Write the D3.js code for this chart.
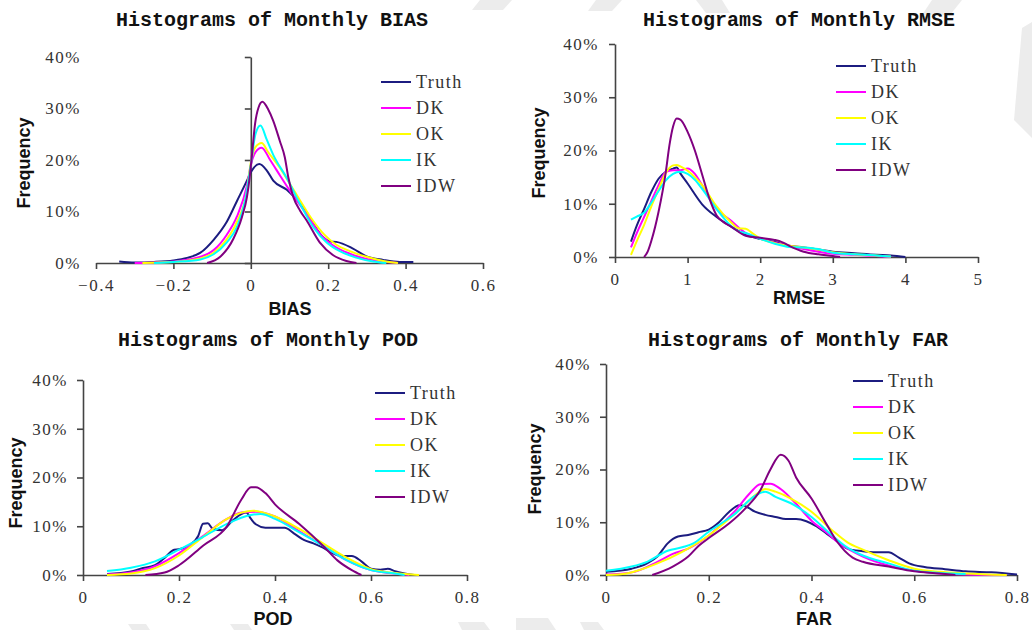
<!DOCTYPE html>
<meta charset="utf-8">
<style>
body { margin: 0; background: #fff; }
.title { font: bold 20px "Liberation Mono", monospace; fill: #111; }
.axis-title { font: bold 18px "Liberation Sans", sans-serif; fill: #111; }
.tick-label { font: 17px "Liberation Serif", serif; fill: #333; letter-spacing: 1.5px; }
.legend text { font: 18px "Liberation Serif", serif; fill: #333; letter-spacing: 1.5px; }
.axis path, .axis line { stroke: #444; stroke-width: 1.6px; }
.line { fill: none; stroke-width: 2px; }
</style>
<body>
<svg width="1032" height="630"></svg>
<script src="https://d3js.org/d3.v7.min.js"></script>
<script>
var seriesNames = ["Truth", "DK", "OK", "IK", "IDW"];
var seriesColors = ["#1c1c80", "#ff00ff", "#ffff00", "#00ffff", "#800080"];
var yTicks = [0, 10, 20, 30, 40];

// values are [x, frequency %]
var biasTruth = [[-0.34,0.3],[-0.3,0.1],[-0.25,0.2],[-0.2,0.5],[-0.165,1],[-0.13,2],[-0.096,4.5],[-0.062,8],[-0.036,12],[-0.01,16],[0,17.6],[0.022,19.2],[0.041,18],[0.058,16],[0.093,14.2],[0.127,11.5],[0.161,7.6],[0.187,5],[0.204,4.2],[0.221,4.1],[0.264,2.8],[0.299,1.3],[0.342,0.6],[0.385,0.2],[0.42,0.2]];
var biasDK = [[-0.3,0],[-0.25,0.1],[-0.2,0.3],[-0.13,1.2],[-0.096,2.5],[-0.062,5.5],[-0.036,9],[-0.01,15],[0,19],[0.012,21.5],[0.028,22.4],[0.05,20],[0.077,16.8],[0.103,13.8],[0.144,9.5],[0.178,5.7],[0.213,3.4],[0.256,1.8],[0.299,0.8],[0.342,0.3],[0.38,0]];
var biasOK = [[-0.28,0],[-0.2,0.2],[-0.13,0.9],[-0.096,2],[-0.062,4.6],[-0.036,8],[-0.01,14],[0,19.5],[0.012,22.5],[0.028,23.3],[0.045,21.5],[0.075,18.5],[0.1,15.5],[0.127,12.2],[0.16,8.3],[0.19,5.5],[0.22,3.6],[0.256,2.3],[0.299,1.2],[0.342,0.4],[0.38,0]];
var biasIK = [[-0.25,0],[-0.2,0.2],[-0.13,0.7],[-0.096,1.7],[-0.062,4],[-0.036,7],[-0.015,12],[0,19],[0.012,25],[0.025,26.7],[0.041,24],[0.058,21],[0.093,16.5],[0.127,11.5],[0.161,7],[0.196,4],[0.23,2.3],[0.27,1.1],[0.316,0.3],[0.35,0]];
var biasIDW = [[-0.113,0],[-0.079,1.2],[-0.045,4.7],[-0.023,8.9],[-0.01,12.8],[-0.003,16.6],[0.003,21],[0.011,27],[0.02,30.2],[0.03,31.3],[0.045,29.8],[0.058,27.6],[0.075,23.7],[0.088,20.5],[0.097,16.6],[0.11,12.8],[0.127,10.2],[0.144,8.3],[0.178,4],[0.213,1.5],[0.247,0.4],[0.273,0]];

var rmseTruth = [[0.22,2.9],[0.3,5.9],[0.4,9],[0.5,12.2],[0.6,14.7],[0.7,16],[0.8,16.6],[0.85,16.8],[0.9,15.7],[1.0,13.8],[1.2,9.9],[1.4,7.5],[1.6,5.7],[1.8,4.2],[2.0,3.4],[2.2,2.8],[2.4,2.1],[2.6,1.8],[2.8,1.4],[3.0,1],[3.3,0.7],[3.6,0.4],[3.8,0.3],[4.0,0]];
var rmseDK = [[0.22,1.8],[0.3,4.5],[0.4,7.5],[0.5,10.5],[0.6,13.5],[0.7,16],[0.8,16.3],[0.9,16.3],[1.0,16.6],[1.1,15.6],[1.2,13.5],[1.4,9],[1.6,6.8],[1.8,4.5],[2.0,3.5],[2.2,2.7],[2.4,2.1],[2.6,1.5],[2.8,1],[3.0,0.6],[3.3,0.4],[3.6,0.2],[3.8,0]];
var rmseOK = [[0.22,0.4],[0.3,3],[0.4,6],[0.5,9.5],[0.6,12.7],[0.7,15.8],[0.8,17.2],[0.85,17.3],[0.9,17],[1.0,16.2],[1.1,15],[1.2,13.5],[1.4,9.5],[1.6,6.5],[1.7,5.4],[1.8,5.3],[1.9,4.4],[2.0,3.5],[2.2,2.6],[2.4,2.1],[2.6,1.8],[2.8,1.4],[3.0,0.9],[3.3,0.5],[3.6,0.3],[3.8,0.1]];
var rmseIK = [[0.22,7],[0.3,7.6],[0.4,8.3],[0.5,10.2],[0.6,12.4],[0.7,14.4],[0.8,15.6],[0.9,16],[1.0,15.6],[1.1,14.5],[1.2,12.8],[1.4,9],[1.6,5.8],[1.7,4.8],[1.8,4.5],[2.0,3.4],[2.2,2.5],[2.4,1.9],[2.6,1.8],[2.8,1.5],[3.0,0.8],[3.3,0.5],[3.6,0.3],[3.8,0.1]];
var rmseIDW = [[0.4,0],[0.45,1],[0.5,3],[0.6,8.5],[0.7,16],[0.75,21],[0.8,24.5],[0.85,26],[0.9,25.8],[1.0,23.5],[1.1,20],[1.2,15.5],[1.3,11],[1.4,7.8],[1.5,6.5],[1.6,5.7],[1.8,4],[2.0,3.6],[2.2,3.2],[2.3,2.8],[2.4,2.1],[2.6,1],[2.8,0.5],[3.0,0.2],[3.1,0]];

var podTruth = [[0.05,0.2],[0.1,0.7],[0.12,1.3],[0.15,2],[0.17,3.5],[0.19,5.2],[0.2,5.3],[0.22,6],[0.24,8],[0.25,10.5],[0.26,10.6],[0.27,9.5],[0.29,9.2],[0.31,11],[0.33,12.5],[0.34,12.8],[0.35,11.5],[0.36,10.4],[0.38,9.7],[0.4,9.7],[0.42,9.7],[0.44,8.5],[0.46,7.2],[0.48,6.5],[0.5,5.6],[0.52,4.5],[0.54,3.9],[0.56,3.9],[0.58,2.8],[0.6,1.3],[0.62,1.1],[0.635,1.3],[0.65,0.8],[0.67,0.3],[0.69,0]];
var podDK = [[0.05,0.1],[0.1,0.5],[0.15,1.8],[0.2,4.5],[0.25,8],[0.3,11.5],[0.33,12.8],[0.36,13],[0.4,12],[0.45,9],[0.5,6],[0.55,3],[0.6,1],[0.65,0.3],[0.68,0]];
var podOK = [[0.05,0],[0.1,0.3],[0.15,1.4],[0.2,4],[0.25,7.8],[0.3,11.5],[0.33,12.8],[0.355,13.2],[0.4,12],[0.45,9.5],[0.5,6.5],[0.55,3.5],[0.6,1.2],[0.65,0.4],[0.7,0]];
var podIK = [[0.05,0.8],[0.1,1.5],[0.15,2.8],[0.2,5.2],[0.25,7.8],[0.3,10.5],[0.35,12.3],[0.37,12.5],[0.4,11.5],[0.45,8.8],[0.5,6],[0.55,3],[0.6,1],[0.65,0.3],[0.67,0]];
var podIDW = [[0.13,0],[0.17,0.5],[0.2,2],[0.25,6],[0.3,10],[0.33,15.5],[0.35,18],[0.36,18],[0.38,16.8],[0.4,14.5],[0.45,10.5],[0.5,6],[0.53,3],[0.56,1],[0.58,0]];

var farTruth = [[0,0.6],[0.05,1.2],[0.08,2.2],[0.1,3.5],[0.12,6],[0.14,7.3],[0.16,7.6],[0.18,8.1],[0.2,8.6],[0.22,10],[0.24,12],[0.26,13.2],[0.27,13.1],[0.29,12],[0.31,11.4],[0.33,11],[0.35,10.6],[0.37,10.6],[0.39,10.2],[0.41,9.2],[0.43,7.8],[0.45,6.4],[0.47,5],[0.5,4.5],[0.52,4.3],[0.55,4.3],[0.57,3.3],[0.59,2.2],[0.62,1.5],[0.66,1.1],[0.7,0.7],[0.75,0.5],[0.8,0.1]];
var farDK = [[0,0.1],[0.05,0.5],[0.1,2.5],[0.13,4],[0.16,5],[0.2,7.5],[0.25,12],[0.28,15.5],[0.3,17.2],[0.32,17.3],[0.34,16.3],[0.37,13.5],[0.4,10.3],[0.43,8],[0.45,6.3],[0.5,3.5],[0.55,1.8],[0.6,0.8],[0.65,0.3],[0.7,0.1],[0.78,0]];
var farOK = [[0,0],[0.04,0.3],[0.1,2.2],[0.15,4.5],[0.2,7.5],[0.25,11.5],[0.3,15.8],[0.31,16.3],[0.33,15.8],[0.36,14.5],[0.4,12],[0.44,8.5],[0.47,6.2],[0.5,4.8],[0.55,2.8],[0.6,1.2],[0.65,0.6],[0.7,0.3],[0.78,0]];
var farIK = [[0,0.8],[0.05,1.6],[0.08,2.5],[0.12,4.6],[0.15,5.3],[0.17,6],[0.2,8.2],[0.25,11.5],[0.29,15],[0.31,15.8],[0.33,14.8],[0.36,13.6],[0.4,11],[0.44,7.5],[0.47,5.2],[0.5,3.7],[0.55,2.2],[0.6,0.8],[0.65,0.4],[0.7,0.2]];
var farIDW = [[0.09,0],[0.13,1.6],[0.16,3.5],[0.18,5.5],[0.2,7],[0.24,9.8],[0.27,12.5],[0.3,16],[0.32,20],[0.34,22.8],[0.355,21.7],[0.37,18.5],[0.4,14.5],[0.43,9.5],[0.45,6.3],[0.48,3.3],[0.5,2.5],[0.55,1.6],[0.6,0.7],[0.65,0.3],[0.68,0]];

var svg = d3.select("svg");

// faint background watermark strokes
var watermark = [
  [[480,0],[512,0],[503,10],[472,10]],
  [[596,0],[622,0],[612,11],[588,11]],
  [[696,0],[722,0],[730,13],[706,13]],
  [[932,0],[962,0],[950,15],[922,15]],
  [[1022,28],[1032,22],[1032,138],[1014,120]],
  [[132,630],[150,630],[146,624],[128,624]],
  [[234,630],[252,630],[248,624],[230,624]],
  [[462,630],[490,630],[484,622],[458,622]],
  [[516,630],[556,630],[548,618],[516,618]],
  [[584,630],[604,630],[598,622],[580,622]]
];
svg.append("g").selectAll("path").data(watermark).join("path")
  .attr("d", function(d) { return "M" + d.join("L") + "Z"; })
  .attr("fill", "#ececec");

var panels = [
  { title: "Histograms of Monthly BIAS", xLabel: "BIAS", xDomain: [-0.4, 0.6], xTicks: [-0.4,-0.2,0,0.2,0.4,0.6],
    left: 96, right: 483, top: 57, bottom: 263, yAt: 0, yLabelX: 81,
    titleX: 272, titleY: 26, xLabelX: 290, xLabelY: 315, fLabelX: 30, fLabelY: 163,
    legendX: 381, legendY: 82, data: [biasTruth, biasDK, biasOK, biasIK, biasIDW] },
  { title: "Histograms of Monthly RMSE", xLabel: "RMSE", xDomain: [0, 5], xTicks: [0,1,2,3,4,5],
    left: 615, right: 978, top: 44, bottom: 257, yAt: 0, yLabelX: 599,
    titleX: 799, titleY: 26, xLabelX: 799, xLabelY: 304, fLabelX: 545, fLabelY: 153,
    legendX: 836, legendY: 66, data: [rmseTruth, rmseDK, rmseOK, rmseIK, rmseIDW] },
  { title: "Histograms of Monthly POD", xLabel: "POD", xDomain: [0, 0.8], xTicks: [0,0.2,0.4,0.6,0.8],
    left: 83, right: 467, top: 380, bottom: 575, yAt: 0, yLabelX: 68,
    titleX: 268, titleY: 346, xLabelX: 273, xLabelY: 625, fLabelX: 22, fLabelY: 483,
    legendX: 375, legendY: 393, data: [podTruth, podDK, podOK, podIK, podIDW] },
  { title: "Histograms of Monthly FAR", xLabel: "FAR", xDomain: [0, 0.8], xTicks: [0,0.2,0.4,0.6,0.8],
    left: 606, right: 1017, top: 364, bottom: 575, yAt: 0, yLabelX: 591,
    titleX: 798, titleY: 346, xLabelX: 814, xLabelY: 625, fLabelX: 541, fLabelY: 469,
    legendX: 853, legendY: 381, data: [farTruth, farDK, farOK, farIK, farIDW] }
];

var fmtX = function(d) { return d === 0 ? "0" : (Number.isInteger(d) ? d3.format("d")(d) : d3.format(".1f")(d)); };

panels.forEach(function(p) {
  var x = d3.scaleLinear().domain(p.xDomain).range([p.left, p.right]);
  var y = d3.scaleLinear().domain([0, 40]).range([p.bottom, p.top]);
  var g = svg.append("g");

  g.append("text").attr("class", "title")
    .attr("x", p.titleX).attr("y", p.titleY)
    .attr("text-anchor", "middle").text(p.title);

  var xa = g.append("g").attr("class", "axis")
    .attr("transform", "translate(0," + p.bottom + ")")
    .call(d3.axisBottom(x).tickValues(p.xTicks).tickSize(6).tickSizeOuter(0).tickFormat(fmtX));
  xa.selectAll("text").attr("class", "tick-label").attr("y", 28).attr("dy", null)
    .attr("fill", null).style("font-family", null);
  xa.attr("font-family", null).attr("font-size", null);

  g.append("g").attr("class", "axis")
    .attr("transform", "translate(" + x(p.yAt) + ",0)")
    .call(d3.axisLeft(y).tickValues(yTicks).tickSize(6).tickSizeOuter(0).tickFormat(""));

  g.append("g").selectAll("text").data(yTicks).join("text")
    .attr("class", "tick-label")
    .attr("x", p.yLabelX).attr("y", function(d) { return y(d); })
    .attr("dy", "0.35em").attr("text-anchor", "end")
    .text(function(d) { return d + "%"; });

  g.append("text").attr("class", "axis-title")
    .attr("x", p.xLabelX).attr("y", p.xLabelY)
    .attr("text-anchor", "middle").text(p.xLabel);

  g.append("text").attr("class", "axis-title")
    .attr("transform", "translate(" + p.fLabelX + "," + p.fLabelY + ") rotate(-90)")
    .attr("text-anchor", "middle").text("Frequency");

  var line = d3.line()
    .x(function(d) { return x(d[0]); })
    .y(function(d) { return y(d[1]); })
    .curve(d3.curveMonotoneX);

  p.data.forEach(function(s, i) {
    g.append("path").datum(s).attr("class", "line")
      .attr("stroke", seriesColors[i]).attr("d", line);
  });

  var lg = g.append("g").attr("class", "legend");
  seriesNames.forEach(function(name, i) {
    var ly = p.legendY + i * 26;
    lg.append("line").attr("x1", p.legendX).attr("x2", p.legendX + 30)
      .attr("y1", ly).attr("y2", ly)
      .attr("stroke", seriesColors[i]).attr("stroke-width", 2);
    lg.append("text").attr("x", p.legendX + 35).attr("y", ly)
      .attr("dy", "0.35em").text(name);
  });
});
</script>
</body>
